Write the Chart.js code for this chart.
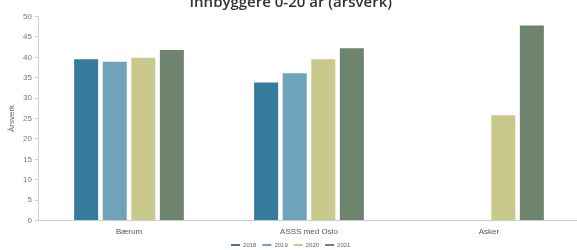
<!DOCTYPE html>
<html>
<head>
<meta charset="utf-8">
<script src="https://cdn.jsdelivr.net/npm/chart.js@4"></script>
<style>
  html, body { margin: 0; padding: 0; background: #fff; overflow: hidden; width: 577px; height: 250px; }
  #c { position: absolute; left: 0; top: -10px; }
</style>
</head>
<body>
<canvas id="c" width="580" height="268"></canvas>
<script>
const titleText = 'Innbyggere 0-20 år (årsverk)';
const yAxisTitle = 'Årsverk';
const categories = ['Bærum', 'ASSS med Oslo', 'Asker'];
const seriesNames = ['2018', '2019', '2020', '2021'];
const values2018 = [39.5, 33.8, null];
const values2019 = [38.9, 36.1, null];
const values2020 = [39.9, 39.5, 25.8];
const values2021 = [41.8, 42.2, 47.8];
const seriesColors = ['#367b9c', '#6fa3b9', '#c8c98b', '#6e846f'];
const yMin = 0, yMax = 50, yStep = 5;

const allValues = [values2018, values2019, values2020, values2021];
const datasets = seriesNames.map((name, i) => ({
  label: name,
  data: allValues[i],
  backgroundColor: seriesColors[i],
  borderWidth: 0,
  categoryPercentage: 0.635,
  barPercentage: 0.84
}));

new Chart(document.getElementById('c'), {
  type: 'bar',
  data: { labels: categories, datasets },
  options: {
    responsive: false,
    animation: false,
    layout: { padding: { left: 2.5, right: 1, top: 0, bottom: 0 } },
    plugins: {
      title: {
        display: true,
        text: titleText,
        color: '#333',
        font: { family: 'Open Sans', size: 15, weight: '600' },
        padding: { top: 4, bottom: 4.5 }
      },
      legend: {
        position: 'bottom',
        labels: {
          boxWidth: 9,
          boxHeight: 2,
          padding: 6,
          color: '#666',
          font: { family: 'Liberation Sans', size: 6 }
        }
      },
      tooltip: { enabled: false }
    },
    scales: {
      x: {
        grid: { display: false, drawTicks: false },
        border: { display: true, color: '#ccc', width: 1 },
        ticks: { color: '#555', padding: 6.2, font: { family: 'Liberation Sans', size: 8 } },
        afterFit: (scale) => { scale.height = 15.5; }
      },
      y: {
        min: yMin,
        max: yMax,
        grid: { display: true, drawOnChartArea: false, drawTicks: true, tickLength: 4, color: '#ccc' },
        border: { display: true, color: '#ccc', width: 1 },
        ticks: { stepSize: yStep, color: '#777', padding: 3, font: { family: 'Liberation Sans', size: 8 } },
        title: { display: true, text: yAxisTitle, color: '#666', font: { family: 'Liberation Sans', size: 8 } }
      }
    }
  }
});
</script>
</body>
</html>
